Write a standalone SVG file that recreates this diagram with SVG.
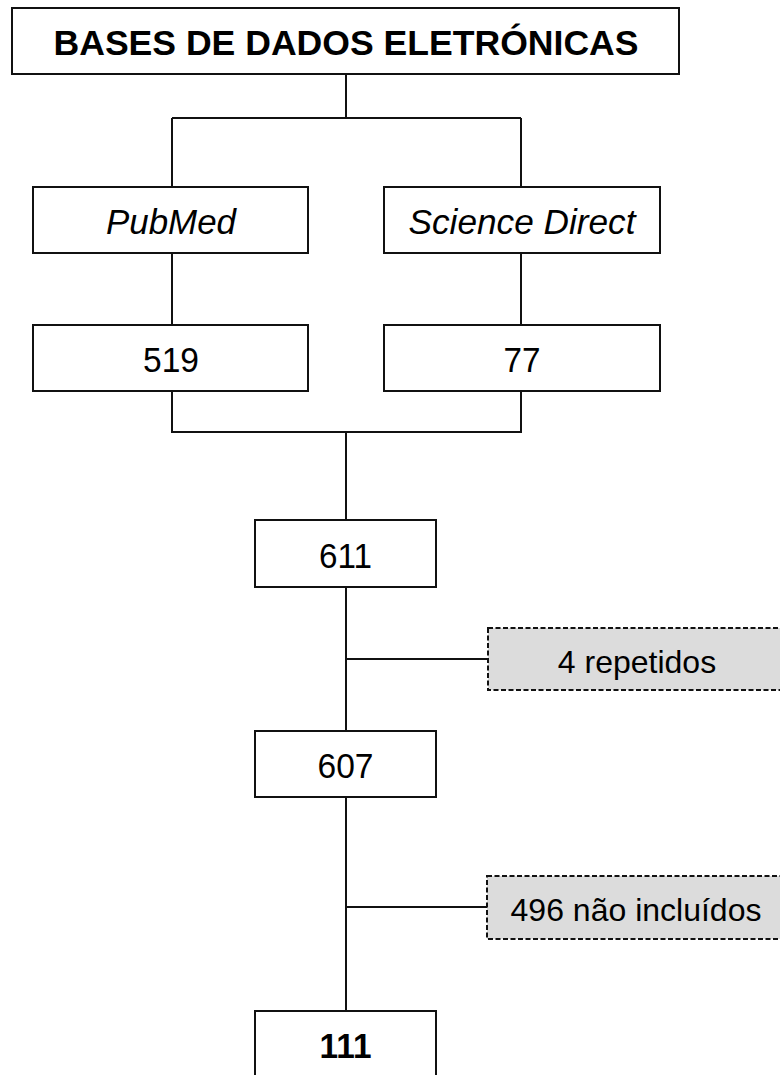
<svg xmlns="http://www.w3.org/2000/svg" width="780" height="1075" viewBox="0 0 780 1075">
<style>
.box{fill:#fff;stroke:#111;stroke-width:2}
.dbox{fill:#dcdcdc;stroke:#111;stroke-width:2;stroke-dasharray:5 2.5}
.ln{fill:none;stroke:#111;stroke-width:2}
text{font-family:"Liberation Sans",Arial,sans-serif;fill:#000;text-anchor:middle}
.t{font-size:35px}
.s{font-size:32px}
.b{font-weight:bold}
.i{font-style:italic}
</style>
<rect width="780" height="1075" fill="#fff"/>
<g id="connectors">
<path class="ln" d="M346,74V118M172,118H521M172,118V187M521,118V187"/>
<path class="ln" d="M172,253V325M521,253V325"/>
<path class="ln" d="M172,391V432H521V391M346,432V520"/>
<path class="ln" d="M346,587V731M346,659H488"/>
<path class="ln" d="M346,797V1011M346,907H487"/>
</g>
<g id="bases">
<rect class="box" x="12" y="8" width="667" height="66"/>
<text class="b" x="346" y="55" font-size="35" textLength="585" lengthAdjust="spacingAndGlyphs">BASES DE DADOS ELETRÓNICAS</text>
</g>
<g id="pubmed">
<rect class="box" x="33" y="187" width="275" height="66"/>
<text class="t i" x="171" y="234" textLength="130" lengthAdjust="spacingAndGlyphs">PubMed</text>
</g>
<g id="sciencedirect">
<rect class="box" x="384" y="187" width="276" height="66"/>
<text class="t i" x="522" y="234" textLength="227" lengthAdjust="spacingAndGlyphs">Science Direct</text>
</g>
<g id="n519">
<rect class="box" x="33" y="325" width="275" height="66"/>
<text class="t" x="171" y="372" textLength="56" lengthAdjust="spacingAndGlyphs">519</text>
</g>
<g id="n77">
<rect class="box" x="384" y="325" width="276" height="66"/>
<text class="t" x="522" y="372" textLength="37" lengthAdjust="spacingAndGlyphs">77</text>
</g>
<g id="n611">
<rect class="box" x="255" y="520" width="181" height="67"/>
<text class="t" x="345.5" y="568" textLength="53" lengthAdjust="spacingAndGlyphs">611</text>
</g>
<g id="repetidos">
<rect class="dbox" x="488" y="628" width="293" height="62"/>
<text class="s" x="637" y="673">4 repetidos</text>
</g>
<g id="n607">
<rect class="box" x="255" y="731" width="181" height="66"/>
<text class="t" x="345.5" y="778" textLength="56" lengthAdjust="spacingAndGlyphs">607</text>
</g>
<g id="naoincluidos">
<rect class="dbox" x="487" y="876" width="294" height="63"/>
<text class="s" x="636" y="921">496 não incluídos</text>
</g>
<g id="n111">
<rect class="box" x="255" y="1011" width="181" height="65"/>
<text class="t b" x="345.5" y="1058" textLength="52" lengthAdjust="spacingAndGlyphs">111</text>
</g>
</svg>
